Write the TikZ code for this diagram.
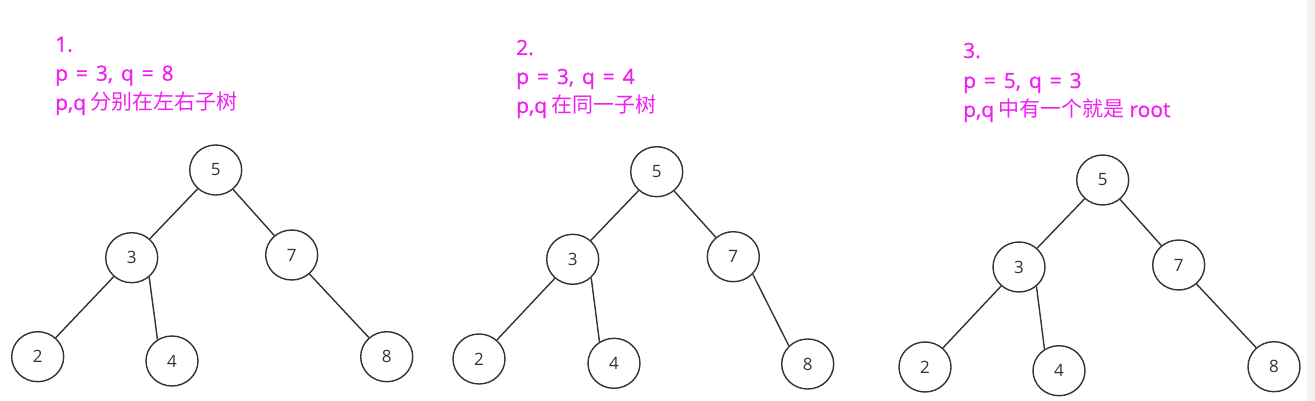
\documentclass[tikz,border=0pt]{standalone}
\usepackage{fontspec}
\setmainfont{Noto Sans CJK SC}
\newfontfamily\numfont{Open Sans}
\newfontfamily\latinfont{Open Sans}[FakeBold=0.8, WordSpace=1.45]
\usepackage{xcolor}
\usepackage{tikz}
\usetikzlibrary{shapes}
\definecolor{notecolor}{RGB}{240,32,240}
\definecolor{linecolor}{RGB}{51,51,51}
\tikzset{
  treenode/.style={
    draw=linecolor,
    ellipse,
    line width=1.4pt,
    minimum width=52pt,
    minimum height=50pt,
    inner sep=0pt,
    text=linecolor,
    font=\numfont\fontsize{17}{20}\selectfont
  },
  note/.style={
    anchor=base west,
    inner sep=0pt,
    text=notecolor,
    font=\fontsize{21}{25}\selectfont
  }
}

\begin{document}
\begin{tikzpicture}[x=1pt, y=-1pt]
\useasboundingbox (0,0) rectangle (1315,401);
\fill[gray!10] (1307,0) rectangle (1315,401);

% case 1
\node[note] (LA1) at (55,51.7) {\latinfont 1.};
\node[note] (LA2) at (55,80.7) {\latinfont p = 3, q = 8};
\node[note] (LA3) at (55,110) {{\latinfont p,q} 分别在左右子树};
\node[treenode] (A5) at (215.7,170) {5};
\node[treenode] (A3) at (131.7,257.7) {3};
\node[treenode] (A7) at (291.7,255) {7};
\node[treenode] (A2) at (37.7,356.7) {2};
\node[treenode] (A4) at (172,361) {4};
\node[treenode] (A8) at (386.7,356.7) {8};

% case 2
\node[note] (LB1) at (516,55) {\latinfont 2.};
\node[note] (LB2) at (516,84) {\latinfont p = 3, q = 4};
\node[note] (LB3) at (516,113) {{\latinfont p,q} 在同一子树};
\node[treenode] (B5) at (656.7,171.7) {5};
\node[treenode] (B3) at (572.7,259.3) {3};
\node[treenode] (B7) at (733.3,256.7) {7};
\node[treenode] (B2) at (479,359) {2};
\node[treenode] (B4) at (614,363.3) {4};
\node[treenode] (B8) at (807.7,364) {8};

% case 3
\node[note] (LC1) at (963,58) {\latinfont 3.};
\node[note] (LC2) at (963,88) {\latinfont p = 5, q = 3};
\node[note] (LC3) at (963,117) {{\latinfont p,q} 中有一个就是 {\latinfont root}};
\node[treenode] (C5) at (1102.7,180) {5};
\node[treenode] (C3) at (1019,267) {3};
\node[treenode] (C7) at (1178.7,265) {7};
\node[treenode] (C2) at (925,367) {2};
\node[treenode] (C4) at (1059,370.7) {4};
\node[treenode] (C8) at (1274,366.7) {8};

\path[draw=linecolor, line width=1.4pt]
      (A5) edge (A3)
           edge (A7)
      (A3) edge (A2)
      (A3.-48) edge (A4.124)
      (A7) edge (A8)
      (B5) edge (B3)
           edge (B7)
      (B3) edge (B2)
      (B3.-45) edge (B4.124)
      (B7.-42) edge (B8.136)
      (C5) edge (C3)
           edge (C7)
      (C3) edge (C2)
      (C3.-48) edge (C4.124)
      (C7) edge (C8);
\end{tikzpicture}
\end{document}
